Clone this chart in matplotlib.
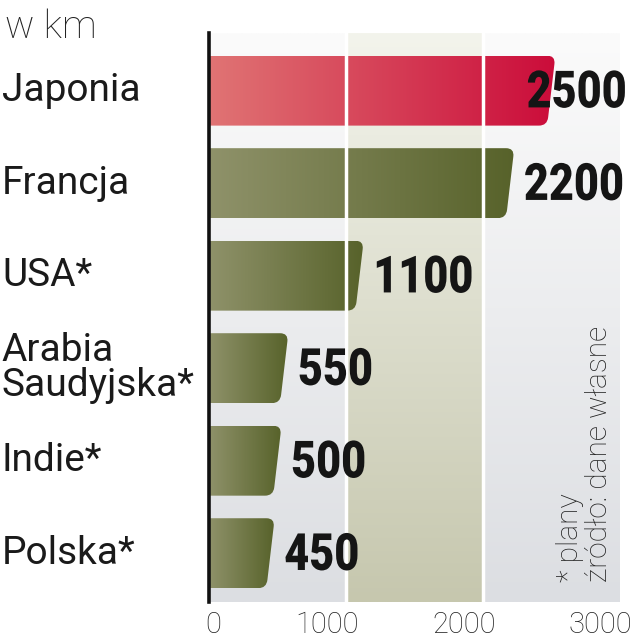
import matplotlib
matplotlib.use("Agg")
import matplotlib.pyplot as plt
import numpy as np
from matplotlib import font_manager, transforms
from matplotlib.colors import LinearSegmentedColormap
from matplotlib.path import Path
from matplotlib.patches import PathPatch
from matplotlib.patheffects import AbstractPathEffect
from matplotlib.transforms import Affine2D

# data
countries = ["Japonia", "Francja", "USA*", "Arabia\nSaudyjska*", "Indie*", "Polska*"]
values = [2500, 2200, 1100, 550, 500, 450]
xticks = [0, 1000, 2000, 3000]
unit = "w km"
note = "* plany\nźródło: dane własne"

names = set(f.name for f in font_manager.fontManager.ttflist)
txt_font = "Roboto" if "Roboto" in names else "DejaVu Sans"


class Narrow(AbstractPathEffect):
    # squeeze text horizontally around its origin (no condensed font installed)
    def __init__(self, sx=0.8):
        super().__init__()
        self.sx = sx

    def draw_path(self, renderer, gc, tpath, affine, rgbFace=None):
        x0, y0 = affine.transform(np.array([[0.0, 0.0]]))[0]
        squeeze = Affine2D().translate(-x0, -y0).scale(self.sx, 1).translate(x0, y0)
        renderer.draw_path(gc, tpath, affine + squeeze, rgbFace)


red = LinearSegmentedColormap.from_list("red", ["#e07474", "#cb0c3a"])
olive = LinearSegmentedColormap.from_list("olive", ["#8f926a", "#57622a"])
grey_bg = LinearSegmentedColormap.from_list("grey", ["#fbfbfb", "#dcdee2"])
band_bg = LinearSegmentedColormap.from_list("band", ["#f3f4ec", "#c6c7ae"])

fig = plt.figure(figsize=(6.35, 6.4), dpi=100)
ax = fig.add_axes([0.329, 0.059, 0.647, 0.889])

n = len(values)
ylo, yhi = n - 1 + 0.53, -0.62
xmax = 3000

# background columns with vertical gradient
vgrad = np.linspace(0, 1, 256).reshape(-1, 1)
for x0, x1 in zip(xticks[:-1], xticks[1:]):
    cmap = band_bg if x0 == 1000 else grey_bg
    ax.imshow(vgrad, extent=(x0, x1, ylo, yhi), origin="upper", cmap=cmap,
              aspect="auto", zorder=0)

# bars with slanted, rounded right end
h = 0.378
dx, rx, ry = 30, 60, 0.09
hgrad = np.linspace(0, 1, 256).reshape(1, -1)
for i, v in enumerate(values):
    yb, yt = i + h, i - h
    t0 = ry / (2 * h)
    p = lambda t: (v - dx + 2 * dx * t, yb - 2 * h * t)
    verts = [(0, yb), (v - dx - rx, yb), (v - dx, yb), p(t0), p(1 - t0),
             (v + dx, yt), (v + dx - rx, yt), (0, yt), (0, yb)]
    codes = [Path.MOVETO, Path.LINETO, Path.CURVE3, Path.CURVE3, Path.LINETO,
             Path.CURVE3, Path.CURVE3, Path.LINETO, Path.CLOSEPOLY]
    patch = PathPatch(Path(verts, codes), facecolor="none", edgecolor="none", zorder=2)
    ax.add_patch(patch)
    im = ax.imshow(hgrad, extent=(0, v + dx, yb, yt), cmap=red if i == 0 else olive,
                   aspect="auto", zorder=2)
    im.set_clip_path(patch)
    ax.text(min(v + 100, 2320), i + 0.03, str(v), ha="left", va="center",
            fontsize=37, fontweight="heavy", family=txt_font, color="#151515",
            zorder=5, path_effects=[Narrow(0.84)])

for g in xticks[1:-1]:
    ax.axvline(g, color="white", lw=2.5, zorder=3)

ax.set_xlim(0, xmax)
ax.set_ylim(ylo, yhi)
for s in ["top", "right", "bottom"]:
    ax.spines[s].set_visible(False)
ax.spines["left"].set_linewidth(2.6)
ax.spines["left"].set_color("#111111")
ax.spines["left"].set_zorder(6)
ax.set_yticks([])
ax.set_xticks(xticks)
ax.set_xticklabels([str(t) for t in xticks], fontsize=21, family=txt_font,
                   fontweight="light", color="#222222")
ax.tick_params(axis="x", length=0, pad=6)
for t, lab in zip(xticks, ax.get_xticklabels()):
    shift = 4 if t == 0 else -19
    lab.set_transform(lab.get_transform() + transforms.ScaledTranslation(shift / 100, 0, fig.dpi_scale_trans))

# category labels
trans = transforms.blended_transform_factory(fig.transFigure, ax.transData)
for i, c in enumerate(countries):
    ax.text(0.003, i, c, transform=trans, ha="left", va="center", fontsize=28,
            family=txt_font, color="#1a1a1a", linespacing=0.95)

fig.text(0.008, 0.958, unit, ha="left", va="center", fontsize=28,
         family=txt_font, fontweight="light", color="#222222")

ax.text(0.845, 0.035, note, transform=ax.transAxes, rotation=90, rotation_mode="anchor",
        ha="left", va="top", fontsize=21.5, family=txt_font, fontweight="light",
        color="#222222", linespacing=1.05, zorder=5)

fig.savefig("out.png", dpi=100)
